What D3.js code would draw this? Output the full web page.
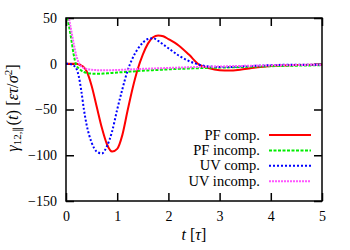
<!DOCTYPE html>
<html><head><meta charset="utf-8">
<script src="https://cdn.jsdelivr.net/npm/d3@7"></script>
<style>body{margin:0;background:#fff}svg{display:block}text{font-family:"Liberation Serif",serif}</style>
</head><body><svg id="c" width="350" height="250"></svg>
<script>
const tGrid = [0,0.05,0.1,0.15,0.2,0.25,0.3,0.35,0.4,0.5,0.6,0.7,0.8,0.9,1.0,1.1,1.2,1.3,1.4,1.5,1.6,1.7,1.8,1.9,2.0,2.2,2.4,2.6,2.8,3.0,3.2,3.4,3.6,3.8,4.0,4.5,5.0];
const pfComp = [0,0,0,0,0,-0.5,-2,-4,-8,-24,-47,-70,-88,-96,-93,-78,-52,-27,-6,10,22,29,31,30,27,20,10,-1,-5,-7,-7.5,-6.5,-5,-3.5,-2.5,-1.5,-1];
const pfIncomp = [60,44,28,10,-1.5,-5,-7.5,-9,-10,-10.8,-11,-10.8,-10.5,-10,-9.6,-9.2,-8.8,-8.4,-8,-7.6,-7.3,-7,-6.7,-6.4,-6.1,-5.6,-5.2,-4.8,-4.5,-4.2,-3.9,-3.6,-3.3,-3,-2.7,-2.1,-1.6];
const uvComp = [0,0,-0.5,-2,-5,-14,-30,-50,-66,-86,-96,-98,-90,-74,-50,-28,-8,6,16,23,27,28,25,21,17,9,3,-1,-3,-3.5,-3.5,-3,-2.5,-2,-1.5,-1,-1];
const uvIncomp = [75,53,37,22,9,1,-3,-4.8,-5.6,-6.5,-7,-7.2,-7.2,-7,-6.8,-6.6,-6.3,-6.1,-5.8,-5.6,-5.4,-5.2,-5,-4.8,-4.6,-4.2,-3.8,-3.5,-3.2,-3,-2.7,-2.4,-2.2,-2,-1.8,-1.4,-1];
const seriesNames = ["PF comp.","PF incomp.","UV comp.","UV incomp."];
const xTicks = [0,1,2,3,4,5];
const yTicks = [-150,-100,-50,0,50];

const styles = [
  {color:"#ff0000", dash:null, w:2},
  {color:"#00ee00", dash:"3,1.5", w:2},
  {color:"#0000ff", dash:"2,2", w:2},
  {color:"#ff55ff", dash:"2,1", w:2}
];
const allSeries = [pfComp,pfIncomp,uvComp,uvIncomp];

const svg = d3.select("#c");
const m = {l:66,r:28,t:18,b:49};
const W = 350, H = 250;
const x = d3.scaleLinear().domain([0,5]).range([m.l, W-m.r]);
const y = d3.scaleLinear().domain([-150,50]).range([H-m.b, m.t]);

svg.append("defs").append("clipPath").attr("id","clip").append("rect")
  .attr("x",m.l).attr("y",m.t).attr("width",W-m.l-m.r).attr("height",H-m.t-m.b);

const fs = 14;
function styleAxis(g, labels){
  g.select(".domain").remove();
  g.selectAll(".tick line").attr("stroke","#000").attr("stroke-width",1.5);
  g.selectAll(".tick text").attr("font-size",fs).attr("fill","#000").attr("font-family","Liberation Serif");
  if(!labels) g.selectAll(".tick text").remove();
}
svg.append("g").attr("transform",`translate(0,${H-m.b})`)
  .call(d3.axisBottom(x).tickValues(xTicks).tickSize(-8).tickPadding(10).tickFormat(d3.format("d")))
  .call(g=>styleAxis(g,true));
svg.append("g").attr("transform",`translate(0,${m.t})`)
  .call(d3.axisTop(x).tickValues(xTicks).tickSize(-8))
  .call(g=>styleAxis(g,false));
svg.append("g").attr("transform",`translate(${m.l},0)`)
  .call(d3.axisLeft(y).tickValues(yTicks).tickSize(-8).tickPadding(9).tickFormat(d3.format("d")))
  .call(g=>styleAxis(g,true));
svg.append("g").attr("transform",`translate(${W-m.r},0)`)
  .call(d3.axisRight(y).tickValues(yTicks).tickSize(-8))
  .call(g=>styleAxis(g,false));

const line = d3.line().x((d,i)=>x(tGrid[i])).y(d=>y(d)).curve(d3.curveMonotoneX);
const plot = svg.append("g").attr("clip-path","url(#clip)");
allSeries.forEach((s,i)=>{
  plot.append("path").datum(s).attr("d",line).attr("fill","none")
    .attr("stroke",styles[i].color).attr("stroke-width",styles[i].w)
    .attr("stroke-dasharray",styles[i].dash);
});

svg.append("rect").attr("x",m.l).attr("y",m.t).attr("width",W-m.l-m.r).attr("height",H-m.t-m.b)
  .attr("fill","none").attr("stroke","#000").attr("stroke-width",1.5);

// legend
const leg = svg.append("g");
seriesNames.forEach((n,i)=>{
  const yy = 135 + i*15.4;
  leg.append("text").attr("x",260).attr("y",yy).attr("dy","0.32em").attr("text-anchor","end")
    .attr("font-size",14.5).text(n);
  leg.append("line").attr("x1",269).attr("x2",311).attr("y1",yy).attr("y2",yy)
    .attr("stroke",styles[i].color).attr("stroke-width",styles[i].w).attr("stroke-dasharray",styles[i].dash);
});

// x label
const xl = svg.append("text").attr("x",(m.l+W-m.r)/2).attr("y",240).attr("text-anchor","middle").attr("font-size",16);
xl.append("tspan").attr("font-style","italic").text("t");
xl.append("tspan").text(" [");
xl.append("tspan").attr("font-style","italic").text("τ");
xl.append("tspan").text("]");

// y label
const yl = svg.append("text").attr("transform",`translate(18,108) rotate(-90)`).attr("text-anchor","middle").attr("font-size",16.5);
yl.append("tspan").attr("font-style","italic").text("γ");
yl.append("tspan").attr("font-size",11).attr("dy",3).text("12,∥");
yl.append("tspan").attr("dy",-3).text("(");
yl.append("tspan").attr("font-style","italic").text("t");
yl.append("tspan").text(")  [");
yl.append("tspan").attr("font-style","italic").text("ετ");
yl.append("tspan").text("/");
yl.append("tspan").attr("font-style","italic").text("σ");
yl.append("tspan").attr("font-size",11).attr("dy",-6).text("2");
yl.append("tspan").attr("dy",6).text("]");
</script></body></html>
